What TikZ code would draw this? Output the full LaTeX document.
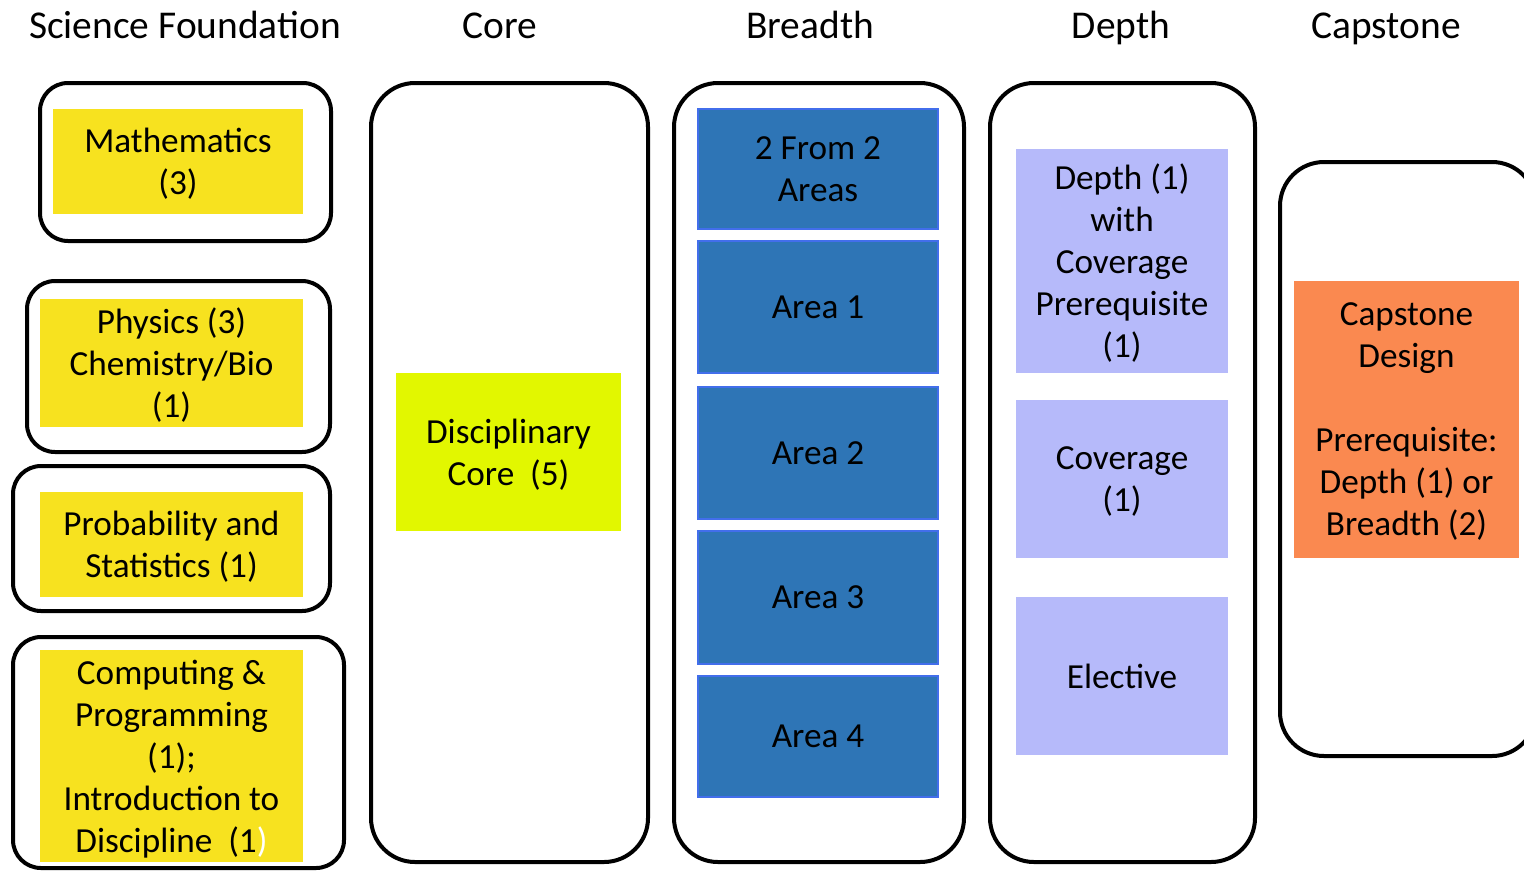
\documentclass[tikz,border=0pt]{standalone}
\usepackage{fontspec}
\setmainfont{Carlito}
\usepackage{tikz}

\definecolor{sfyellow}{RGB}{247,226,31}
\definecolor{coregreen}{RGB}{226,247,0}
\definecolor{areablue}{RGB}{46,117,182}
\definecolor{areaedge}{RGB}{66,110,235}
\definecolor{depthlav}{RGB}{182,186,250}
\definecolor{caporange}{RGB}{250,137,80}

\begin{document}
\begin{tikzpicture}[x=0.5pt,y=-0.5pt,
  every node/.style={font=\fontsize{17.6}{21}\selectfont, align=center, inner sep=0pt},
  heading/.style={anchor=base, font=\fontsize{19.7}{23}\selectfont},
  frame/.style={draw=black, line width=2pt, rounded corners=14pt},
  bigframe/.style={frame, rounded corners=22pt},
  cell/.style={inner sep=0pt, text depth=0pt}]
\useasboundingbox (0,0) rectangle (1524,873);
% column headings:
\node[heading] (hsf) at (185,38) {Science Foundation};
\node[heading] (hcore) at (500,38) {Core};
\node[heading] (hbrd) at (810,38) {Breadth};
\node[heading] (hdep) at (1121,38) {Depth};
\node[heading] (hcap) at (1386,38) {Capstone};
% frames:
\path[frame] (40,83) rectangle (331,241);
\path[frame] (27,281) rectangle (330,452);
\path[frame] (13,466) rectangle (330,611);
\path[frame] (13,637) rectangle (344,868);
\path[bigframe] (371,83) rectangle (648,862);
\path[bigframe] (674,83) rectangle (964,862);
\path[bigframe] (990,83) rectangle (1255,862);
\path[bigframe] (1280,162) rectangle (1536,756);
% science foundation:
\node[cell,fill=sfyellow,minimum width=125pt,minimum height=52.5pt] (math) at (178,161.5) {Mathematics\\(3)};
\node[cell,fill=sfyellow,minimum width=131.5pt,minimum height=64pt] (phys) at (171.5,363) {Physics (3)\\Chemistry/Bio\\(1)};
\node[cell,fill=sfyellow,minimum width=131.5pt,minimum height=52.5pt] (prob) at (171.5,544.5) {Probability and\\Statistics (1)};
\node[cell,fill=sfyellow,minimum width=131.5pt,minimum height=106pt] (comp) at (171.5,756) {Computing \&\\Programming\\(1);\\Introduction to\\Discipline~~(1\textcolor{white}{)}};
% core:
\node[cell,fill=coregreen,minimum width=112.5pt,minimum height=79pt] (dcore) at (508.5,452) {Disciplinary\\Core~~(5)};
% breadth:
\node[cell,fill=areablue,draw=areaedge,line width=1pt,minimum width=120pt,minimum height=60pt] (brd0) at (818,169) {2 From 2\\Areas};
\node[cell,fill=areablue,draw=areaedge,line width=1pt,minimum width=120pt,minimum height=66pt] (brd1) at (818,307) {Area 1};
\node[cell,fill=areablue,draw=areaedge,line width=1pt,minimum width=120pt,minimum height=66pt] (brd2) at (818,453) {Area 2};
\node[cell,fill=areablue,draw=areaedge,line width=1pt,minimum width=120pt,minimum height=66.5pt] (brd3) at (818,597.5) {Area 3};
\node[cell,fill=areablue,draw=areaedge,line width=1pt,minimum width=120pt,minimum height=60.5pt] (brd4) at (818,736.5) {Area 4};
% depth:
\node[cell,fill=depthlav,minimum width=106pt,minimum height=112pt] (dep1) at (1122,261) {Depth (1)\\with\\Coverage\\Prerequisite\\(1)};
\node[cell,fill=depthlav,minimum width=106pt,minimum height=79pt] (dep2) at (1122,479) {Coverage\\(1)};
\node[cell,fill=depthlav,minimum width=106pt,minimum height=79pt] (dep3) at (1122,676) {Elective};
% capstone:
\node[cell,fill=caporange,minimum width=112.5pt,minimum height=138.5pt] (cap) at (1406.5,419.5) {Capstone\\Design\\[21pt]Prerequisite:\\Depth (1) or\\Breadth (2)};
\end{tikzpicture}
\end{document}
